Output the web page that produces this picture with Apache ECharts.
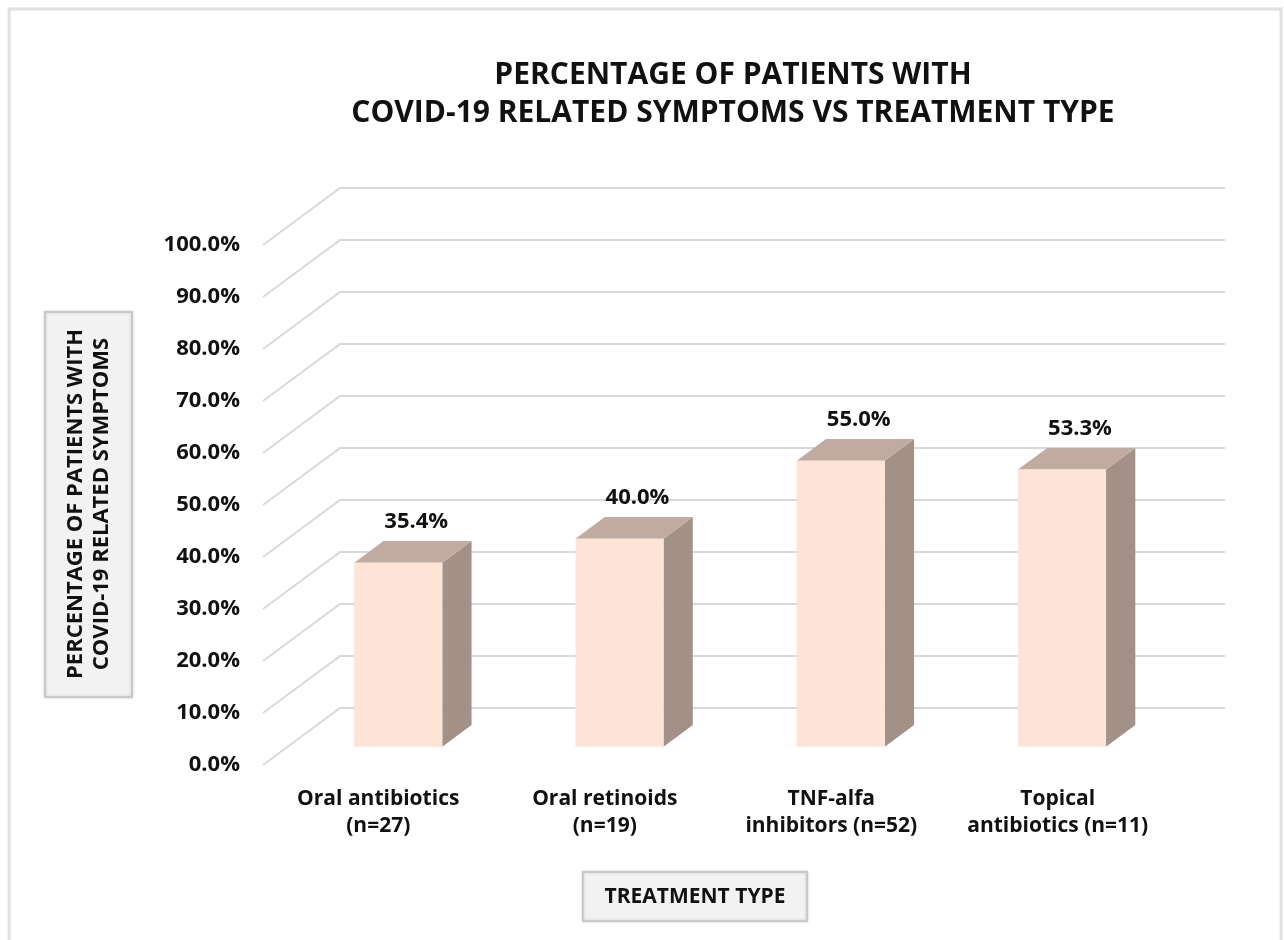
<!DOCTYPE html>
<html>
<head>
<meta charset="utf-8">
<script src="https://cdn.jsdelivr.net/npm/echarts@6/dist/echarts.min.js"></script>
<style>html,body{margin:0;padding:0;background:#fff}#chart{width:1284px;height:940px}</style>
</head>
<body>
<div id="chart"></div>
<script>
const categories = ['Oral antibiotics\n(n=27)', 'Oral retinoids\n(n=19)', 'TNF-alfa\ninhibitors (n=52)', 'Topical\nantibiotics (n=11)'];
const values = [35.4, 40.0, 55.0, 53.3];
const yTicks = [0, 10, 20, 30, 40, 50, 60, 70, 80, 90, 100];

const FONT = '"Open Sans", "DejaVu Sans", sans-serif';
const DX = 77, DY = 57;          // depth of the 3D floor
const FRONT = 0.32, BACK = 0.70; // bar depth position (fraction)
const chart = echarts.init(document.getElementById('chart'));

chart.setOption({
  backgroundColor: '#ffffff',
  animation: false,
  title: {
    text: 'PERCENTAGE OF PATIENTS WITH\nCOVID-19 RELATED SYMPTOMS VS TREATMENT TYPE',
    left: 728, top: 51, textAlign: 'center',
    textStyle: { fontFamily: FONT, fontWeight: 'bold', fontSize: 30, lineHeight: 38, color: '#111' }
  },
  grid: [
    { left: 263, right: 136, top: 245, bottom: 175 },
    { left: 265, right: 113, top: 245, bottom: 175 }
  ],
  xAxis: [
    { type: 'category', gridIndex: 0, data: categories, axisLine: { show: false }, axisTick: { show: false }, axisLabel: { show: false } },
    { type: 'category', gridIndex: 1, data: categories, axisLine: { show: false }, axisTick: { show: false },
      axisLabel: { interval: 0, hideOverlap: false, margin: 21, fontFamily: FONT, fontWeight: 'bold', fontSize: 21, lineHeight: 27, color: '#111' } }
  ],
  yAxis: [
    { type: 'value', gridIndex: 0, min: 0, max: 100, interval: 10,
      axisLine: { show: false }, axisTick: { show: false }, splitLine: { show: false },
      axisLabel: { margin: 23, fontFamily: FONT, fontWeight: 'bold', fontSize: 22, color: '#111',
        formatter: v => v.toFixed(1) + '%' } },
    { type: 'value', gridIndex: 1, min: 0, max: 100, show: false }
  ],
  graphic: [
    { type: 'rect', shape: { x: 9, y: 9, width: 1272, height: 940 }, style: { fill: 'none', stroke: '#e0e0e0', lineWidth: 3 }, z: -10 },
    { type: 'rect', shape: { x: 45, y: 312, width: 87, height: 385 }, style: { fill: '#f2f2f2', stroke: '#c9c9c9', lineWidth: 2, shadowBlur: 3, shadowColor: 'rgba(0,0,0,0.15)' } },
    { type: 'text', x: 89, y: 504, rotation: Math.PI / 2,
      style: { text: 'PERCENTAGE OF PATIENTS WITH\nCOVID-19 RELATED SYMPTOMS', align: 'center', verticalAlign: 'middle',
        fontFamily: FONT, fontWeight: 'bold', fontSize: 22, lineHeight: 26, fill: '#111' } },
    { type: 'rect', shape: { x: 583, y: 872, width: 224, height: 49 }, style: { fill: '#f2f2f2', stroke: '#c9c9c9', lineWidth: 2, shadowBlur: 3, shadowColor: 'rgba(0,0,0,0.15)' } },
    { type: 'text', x: 695, y: 897,
      style: { text: 'TREATMENT TYPE', align: 'center', verticalAlign: 'middle',
        fontFamily: FONT, fontWeight: 'bold', fontSize: 21, fill: '#111' } }
  ],
  series: [
    {
      type: 'custom', xAxisIndex: 0, yAxisIndex: 0, z: 1,
      data: yTicks.map(v => [0, v]),
      renderItem: function (params, api) {
        const cs = params.coordSys;
        const y = api.coord([0, api.value(1)])[1];
        return {
          type: 'polyline',
          shape: { points: [[cs.x, y], [cs.x + DX, y - DY], [cs.x + cs.width + DX, y - DY]] },
          style: { stroke: '#d9d9d9', lineWidth: 2, fill: 'none' }
        };
      }
    },
    {
      type: 'custom', xAxisIndex: 0, yAxisIndex: 0, z: 3,
      data: values.map((v, i) => [i, v]),
      renderItem: function (params, api) {
        const i = api.value(0), v = api.value(1);
        const base = api.coord([i, 0]);
        const top = api.coord([i, v]);
        const bw = api.size([1, 0])[0];
        const w = bw * 0.398;
        const x0 = base[0] - w / 2 + FRONT * DX;
        const x1 = x0 + w;
        const yb = base[1] - FRONT * DY;
        const yt = top[1] - FRONT * DY;
        const ddx = (BACK - FRONT) * DX, ddy = (BACK - FRONT) * DY;
        return {
          type: 'group',
          children: [
            { type: 'polygon', shape: { points: [[x1, yb], [x1 + ddx, yb - ddy], [x1 + ddx, yt - ddy], [x1, yt]] },
              style: { fill: '#a39188' } },
            { type: 'polygon', shape: { points: [[x0, yt], [x0 + ddx, yt - ddy], [x1 + ddx, yt - ddy], [x1, yt]] },
              style: { fill: '#c1aba1' } },
            { type: 'rect', shape: { x: x0, y: yt, width: w, height: yb - yt },
              style: { fill: '#fde4d6' } },
            { type: 'text', x: x0 + w / 2 + 18, y: yt - ddy - 19,
              style: { text: v.toFixed(1) + '%', align: 'center', verticalAlign: 'middle',
                fontFamily: FONT, fontWeight: 'bold', fontSize: 22, fill: '#111' } }
          ]
        };
      }
    }
  ]
});
</script>
</body>
</html>
